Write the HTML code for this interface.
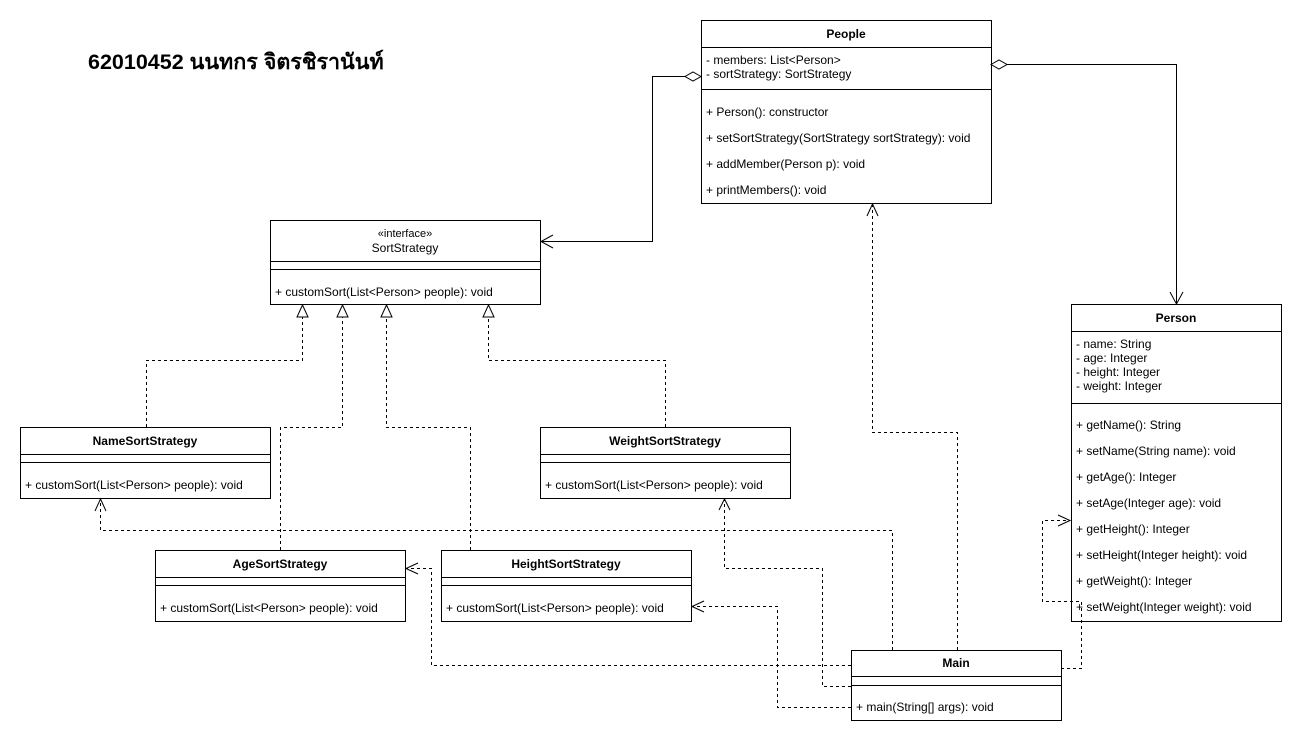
<!DOCTYPE html>
<html><head><meta charset="utf-8"><style>
html,body{margin:0;padding:0;background:#fff;}
svg{display:block;}
text{font-family:"Liberation Sans","Noto Sans CJK SC",sans-serif;font-size:12px;fill:#000;}
.b{font-weight:bold;}
</style></head><body>
<svg width="1302" height="744" viewBox="0 0 1302 744" xmlns="http://www.w3.org/2000/svg">
<text x="88" y="69" style="font-size:21.5px;font-weight:bold" font-family="Liberation Sans, Noto Sans CJK SC, Noto Sans CJK TC, sans-serif">62010452 นนทกร จิตรชิรานันท์</text>

<g fill="#fff" stroke="#000" stroke-width="1">
<rect x="701.5" y="20.5" width="290" height="183"/>
<line x1="701.5" y1="47.5" x2="991.5" y2="47.5"/>
<line x1="701.5" y1="89.5" x2="991.5" y2="89.5"/>
<rect x="270.5" y="220.5" width="270" height="84"/>
<line x1="270.5" y1="261.5" x2="540.5" y2="261.5"/>
<line x1="270.5" y1="269.5" x2="540.5" y2="269.5"/>
<rect x="20.5" y="427.5" width="250" height="71"/>
<line x1="20.5" y1="454.5" x2="270.5" y2="454.5"/>
<line x1="20.5" y1="462.5" x2="270.5" y2="462.5"/>
<rect x="540.5" y="427.5" width="250" height="71"/>
<line x1="540.5" y1="454.5" x2="790.5" y2="454.5"/>
<line x1="540.5" y1="462.5" x2="790.5" y2="462.5"/>
<rect x="155.5" y="550.5" width="250" height="71"/>
<line x1="155.5" y1="577.5" x2="405.5" y2="577.5"/>
<line x1="155.5" y1="585.5" x2="405.5" y2="585.5"/>
<rect x="441.5" y="550.5" width="250" height="71"/>
<line x1="441.5" y1="577.5" x2="691.5" y2="577.5"/>
<line x1="441.5" y1="585.5" x2="691.5" y2="585.5"/>
<rect x="1071.5" y="304.5" width="210" height="317"/>
<line x1="1071.5" y1="331.5" x2="1281.5" y2="331.5"/>
<line x1="1071.5" y1="403.5" x2="1281.5" y2="403.5"/>
<rect x="851.5" y="650.5" width="210" height="70"/>
<line x1="851.5" y1="676.5" x2="1061.5" y2="676.5"/>
<line x1="851.5" y1="685.5" x2="1061.5" y2="685.5"/>
</g>

<g fill="none" stroke="#000" stroke-width="1">
<polyline points="685,76.5 652.5,76.5 652.5,241.5 541,241.5"/>
<polyline points="553,235 541,241.5 553,248"/>
<polygon points="701,76.5 693,72 685,76.5 693,81" fill="#fff"/>
<polyline points="1007,64.5 1176.5,64.5 1176.5,304"/>
<polyline points="1170,292 1176.5,304 1183,292"/>
<polygon points="991,64.5 999,60 1007,64.5 999,69" fill="#fff"/>
</g>

<g fill="none" stroke="#000" stroke-width="1" stroke-dasharray="3,3">
<polyline points="146.5,427 146.5,360.5 302.5,360.5 302.5,317"/>
<polyline points="280.5,550 280.5,427.5 342.5,427.5 342.5,317"/>
<polyline points="470.5,550 470.5,427.5 386.5,427.5 386.5,317"/>
<polyline points="665.5,427 665.5,360.5 488.5,360.5 488.5,317"/>
<polyline points="892.5,650 892.5,530.5 100.5,530.5 100.5,500"/>
<polyline points="957.5,650 957.5,432.5 872.5,432.5 872.5,205"/>
<polyline points="851,665.5 431.5,665.5 431.5,568.5 407,568.5"/>
<polyline points="851,686.5 822.5,686.5 822.5,568.5 724.5,568.5 724.5,500"/>
<polyline points="851,707.5 777.5,707.5 777.5,606.5 693,606.5"/>
<polyline points="1061,668.5 1081.5,668.5 1081.5,601.5 1042.5,601.5 1042.5,520.5 1070,520.5"/>
</g>
<g fill="#fff" stroke="#000" stroke-width="1">
<polygon points="302.5,305 297,317 308,317"/>
<polygon points="342.5,305 337,317 348,317"/>
<polygon points="386.5,305 381,317 392,317"/>
<polygon points="488.5,305 483,317 494,317"/>
</g>
<g fill="none" stroke="#000" stroke-width="1">
<polyline points="95,511 100.5,499 106,511"/>
<polyline points="867,216 872.5,204 878,216"/>
<polyline points="418,563 406,568.5 418,574"/>
<polyline points="719,510 724.5,499 730,510"/>
<polyline points="704,601 692,606.5 704,612"/>
<polyline points="1058,515 1070,520.5 1058,526"/>
</g>

<text x="846" y="38" text-anchor="middle" class="b">People</text>
<text x="706" y="64">- members: List&lt;Person&gt;</text>
<text x="706" y="78">- sortStrategy: SortStrategy</text>
<text x="706" y="116">+ Person(): constructor</text>
<text x="706" y="142">+ setSortStrategy(SortStrategy sortStrategy): void</text>
<text x="706" y="168">+ addMember(Person p): void</text>
<text x="706" y="194">+ printMembers(): void</text>

<text x="405" y="237" text-anchor="middle" style="font-size:11px">«interface»</text>
<text x="405" y="252" text-anchor="middle">SortStrategy</text>
<text x="275" y="296">+ customSort(List&lt;Person&gt; people): void</text>

<text x="145" y="445" text-anchor="middle" class="b">NameSortStrategy</text>
<text x="25" y="489">+ customSort(List&lt;Person&gt; people): void</text>
<text x="665" y="445" text-anchor="middle" class="b">WeightSortStrategy</text>
<text x="545" y="489">+ customSort(List&lt;Person&gt; people): void</text>
<text x="280" y="568" text-anchor="middle" class="b">AgeSortStrategy</text>
<text x="160" y="612">+ customSort(List&lt;Person&gt; people): void</text>
<text x="566" y="568" text-anchor="middle" class="b">HeightSortStrategy</text>
<text x="446" y="612">+ customSort(List&lt;Person&gt; people): void</text>

<text x="1176" y="322" text-anchor="middle" class="b">Person</text>
<text x="1076" y="348">- name: String</text>
<text x="1076" y="362">- age: Integer</text>
<text x="1076" y="376">- height: Integer</text>
<text x="1076" y="390">- weight: Integer</text>
<text x="1076" y="429">+ getName(): String</text>
<text x="1076" y="455">+ setName(String name): void</text>
<text x="1076" y="481">+ getAge(): Integer</text>
<text x="1076" y="507">+ setAge(Integer age): void</text>
<text x="1076" y="533">+ getHeight(): Integer</text>
<text x="1076" y="559">+ setHeight(Integer height): void</text>
<text x="1076" y="585">+ getWeight(): Integer</text>
<text x="1076" y="611">+ setWeight(Integer weight): void</text>

<text x="956" y="667" text-anchor="middle" class="b">Main</text>
<text x="856" y="711">+ main(String[] args): void</text>
</svg>
</body></html>
